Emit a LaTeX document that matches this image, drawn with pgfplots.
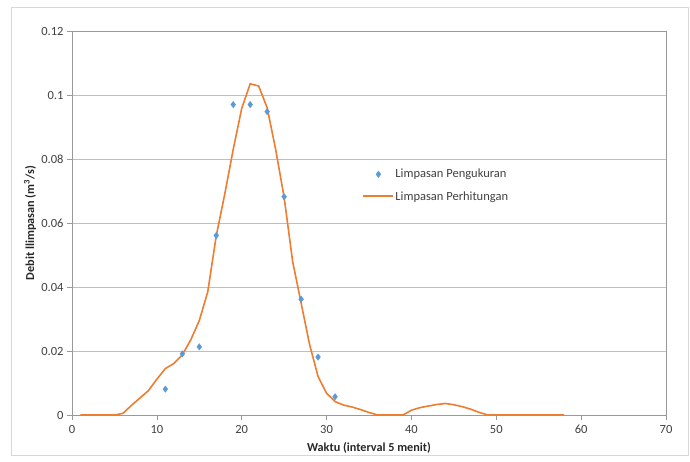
\documentclass[border=0pt]{standalone}
\usepackage{pgfplots}
\pgfplotsset{compat=1.18}
\usepackage{fontspec}
\setmainfont{Carlito}
\definecolor{cblue}{HTML}{5B9BD5}
\definecolor{corange}{HTML}{ED7D31}
\definecolor{cgrid}{HTML}{BFBFBF}
\definecolor{ctext}{HTML}{404040}
\pgfplotsset{
  markleg/.style={legend image code/.code={\draw[mark repeat=2,mark phase=2,##1] plot coordinates {(0pt,0pt) (15pt,0pt) (30pt,0pt)};}},
  lineleg/.style={legend image code/.code={\draw[##1,line width=2pt] (0pt,0.5pt) -- (30pt,0.5pt);}},
}
\begin{document}
\begin{tikzpicture}[x=1pt,y=1pt]
\useasboundingbox (-72,-46) rectangle (618,415);
\draw[cgrid!60,line width=0.8pt] (-61,-40) rectangle (616,408);
\begin{axis}[
  at={(0,0)}, anchor=origin,
  scale only axis, width=594pt, height=384pt,
  xmin=0, xmax=70, ymin=0, ymax=0.12,
  xtick={0,10,...,70},
  ytick={0,0.02,...,0.12},
  yticklabels={0,0.02,0.04,0.06,0.08,0.1,0.12},
  ymajorgrids, grid style={cgrid, line width=0.7pt},
  axis line style={gray!80, line width=0.7pt},
  tick style={gray!80, line width=0.7pt},
  tick align=outside, major tick length=5pt,
  xtick pos=bottom, ytick pos=left,
  /pgf/number format/assume math mode=true,
  ticklabel style={font=\fontsize{12.5}{14}\selectfont, text=ctext},
  xticklabel style={yshift=-2pt},
  scaled y ticks=false,
  xlabel={\textbf{Waktu (interval 5 menit)}},
  ylabel={\textbf{Debit llimpasan (m\textsuperscript{3}/s)}},
  label style={font=\fontsize{12.2}{14}\selectfont, text=black!85},
  xlabel style={at={(axis description cs:0.5,-0.0859)}, anchor=center},
  ylabel style={at={(axis description cs:-0.0707,0.5)}, anchor=center},
  legend style={draw=none, fill=none, at={(axis cs:34.2,0.0775)}, anchor=north west,
    inner sep=0pt, row sep=8pt,
    nodes={font=\fontsize{12.5}{14}\selectfont, text=ctext, inner xsep=1pt}},
  legend cell align=left,
  clip=false,
]
\addplot[only marks, mark=diamond*, mark size=3.2pt, color=cblue, markleg] coordinates {
(11,0.0081) (13,0.0191) (15,0.0213) (17,0.0561) (19,0.0970) (21,0.0970)
(23,0.0948) (25,0.0682) (27,0.0362) (29,0.0181) (31,0.0057)};
\addlegendentry{Limpasan Pengukuran}
\addplot[corange, line width=1.6pt, mark=none, lineleg] coordinates {
(1,0) (2,0) (3,0) (4,0) (5,0) (6,0.0005) (7,0.0030) (8,0.0053) (9,0.0076)
(10,0.0112) (11,0.0145) (12,0.0161) (13,0.0188) (14,0.0235) (15,0.0295)
(16,0.0385) (17,0.0560) (18,0.0690) (19,0.0830) (20,0.0958) (21,0.1035)
(22,0.1028) (23,0.0960) (24,0.0830) (25,0.0680) (26,0.0480) (27,0.0350)
(28,0.0220) (29,0.0120) (30,0.0068) (31,0.0042) (32,0.0031) (33,0.0025)
(34,0.0017) (35,0.0008) (36,0) (37,0) (38,0) (39,0) (40,0.0015) (41,0.0023)
(42,0.0028) (43,0.0033) (44,0.0036) (45,0.0032) (46,0.0026) (47,0.0018)
(48,0.0008) (49,0) (50,0) (51,0) (52,0) (53,0) (54,0) (55,0) (56,0) (57,0) (58,0)};
\addlegendentry{Limpasan Perhitungan}
\end{axis}
\end{tikzpicture}
\end{document}
